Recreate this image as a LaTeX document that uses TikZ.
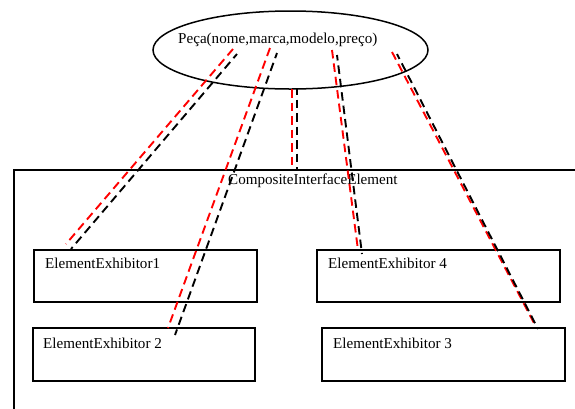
\documentclass[tikz,border=0pt]{standalone}
\usepackage{fontspec}
\setmainfont{Liberation Serif}
\usetikzlibrary{shapes.geometric}
\tikzset{
  boxline/.style={draw=black, line width=1.5pt},
  exhibitor/.style={boxline, rectangle, inner sep=0pt, anchor=north west},
  label/.style={inner sep=0pt, anchor=base west, font=\fontsize{15.1pt}{17pt}\selectfont},
  linkred/.style={draw=red, line width=1.9pt, dash pattern=on 8.5pt off 5pt},
  linkblack/.style={draw=black, line width=1.9pt, dash pattern=on 8.5pt off 5pt, dash phase=3pt}
}
\begin{document}
\begin{tikzpicture}[x=1pt, y=-1pt]
  \useasboundingbox (0,0) rectangle (575,408);
  \clip (0,0) rectangle (575,408);

  % container frame, running off the right and bottom edges
  \node[boxline, rectangle, inner sep=0pt, anchor=north west,
        minimum width=580pt, minimum height=260pt] (comp) at (13,169) {};
  \node[label] (compt) at (228,184) {CompositeInterfaceElement};

  % the part ellipse
  \node[boxline, ellipse, inner sep=0pt, minimum width=275pt, minimum height=78pt] (piece) at (290.5,50) {};
  \node[label] (piecet) at (178,43) {Peça(nome,marca,modelo,preço)};

  % exhibitor boxes
  \node[exhibitor, minimum width=223pt, minimum height=52pt] (e1) at (33,249) {};
  \node[label] (e1t) at (45,268) {ElementExhibitor1};
  \node[exhibitor, minimum width=243pt, minimum height=52pt] (e4) at (316,249) {};
  \node[label] (e4t) at (328,268) {ElementExhibitor 4};
  \node[exhibitor, minimum width=222pt, minimum height=53pt] (e2) at (32,327) {};
  \node[label] (e2t) at (43,348) {ElementExhibitor 2};
  \node[exhibitor, minimum width=243pt, minimum height=53pt] (e3) at (321,327) {};
  \node[label] (e3t) at (333,348) {ElementExhibitor 3};

  % link end points
  \coordinate (r1a) at (233,49);  \coordinate (r1b) at (66,244);
  \coordinate (b1a) at (237,54);  \coordinate (b1b) at (71,249);
  \coordinate (r2a) at (270,48);  \coordinate (r2b) at (168,328);
  \coordinate (b2a) at (277,53);  \coordinate (b2b) at (175,335);
  \coordinate (r3a) at (292,89);  \coordinate (r3b) at (292,168);
  \coordinate (b3a) at (297,89);  \coordinate (b3b) at (297,171);
  \coordinate (r4a) at (332,50);  \coordinate (r4b) at (358,250);
  \coordinate (b4a) at (337,55);  \coordinate (b4b) at (362,254);
  \coordinate (r5a) at (392,52);  \coordinate (r5b) at (535,325);
  \coordinate (b5a) at (397,54);  \coordinate (b5b) at (538,329);

  % dashed links, red and black pairs
  \draw[linkred] (r1a) -- (r1b);
  \draw[linkblack] (b1a) -- (b1b);
  \draw[linkred] (r2a) -- (r2b);
  \draw[linkblack] (b2a) -- (b2b);
  \draw[linkred] (r3a) -- (r3b);
  \draw[linkblack] (b3a) -- (b3b);
  \draw[linkred] (r4a) -- (r4b);
  \draw[linkblack] (b4a) -- (b4b);
  \draw[linkred] (r5a) -- (r5b);
  \draw[linkblack] (b5a) -- (b5b);
\end{tikzpicture}
\end{document}
